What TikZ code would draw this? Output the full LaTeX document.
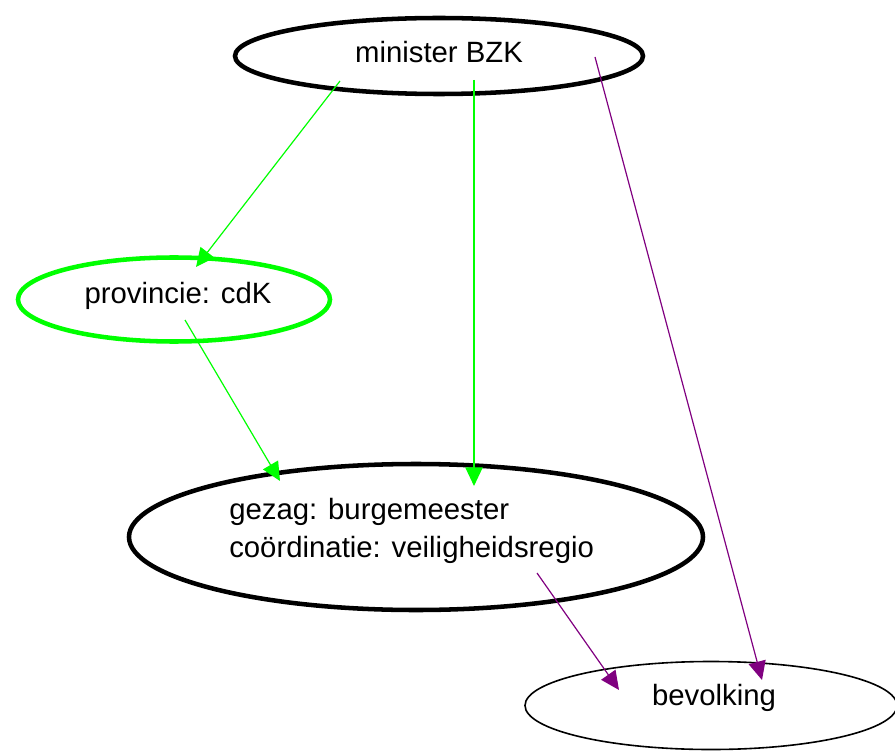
\documentclass[tikz,border=0pt]{standalone}
\usepackage{fontspec}
\setmainfont{Liberation Sans}
\usetikzlibrary{arrows.meta}
\definecolor{lgreen}{RGB}{0,255,0}
\definecolor{purp}{RGB}{128,0,128}
\begin{document}
\begin{tikzpicture}[x=0.75pt,y=-0.75pt,
  lbl/.style={font=\fontsize{22}{26}\selectfont, inner sep=0pt},
  thickell/.style={line width=3.4pt},
  garrow/.style={draw=lgreen, line width=0.9pt, -{Triangle[length=14pt,width=13pt]}, color=lgreen},
  parrow/.style={draw=purp, line width=0.9pt, -{Triangle[length=14pt,width=13pt]}, color=purp}]
\useasboundingbox (0,0) rectangle (895,752);
% ellipses
\draw[thickell] (439,56) ellipse [x radius=204, y radius=38];
\draw[thickell, draw=lgreen] (174,299.5) ellipse [x radius=156, y radius=42];
\draw[thickell] (416,537) ellipse [x radius=287, y radius=73];
\draw[line width=1.2pt] (711,705.5) ellipse [x radius=186, y radius=44];
% labels
\node[lbl] (min) at (439,52) {minister BZK};
\node[lbl] (prov) at (178,296) {provincie: cdK};
\node[lbl, align=left, anchor=west] (gez) at (229,531) {gezag: burgemeester\\[2pt]co\"ordinatie: veiligheidsregio};
\node[lbl] (bev) at (714,698) {bevolking};
% connector endpoints
\coordinate (m1) at (340,81);
\coordinate (p1) at (196,267);
\coordinate (m2) at (474,80);
\coordinate (g1) at (474,486);
\coordinate (m3) at (595,57);
\coordinate (b1) at (762,680);
\coordinate (p2) at (185,320);
\coordinate (g2) at (280,481);
\coordinate (g3) at (537,573);
\coordinate (b2) at (619,690);
% connectors
\draw[garrow] (m1) -- (p1);
\draw[garrow] (m2) -- (g1);
\draw[garrow] (p2) -- (g2);
\draw[parrow] (m3) -- (b1);
\draw[parrow] (g3) -- (b2);
\end{tikzpicture}
\end{document}
